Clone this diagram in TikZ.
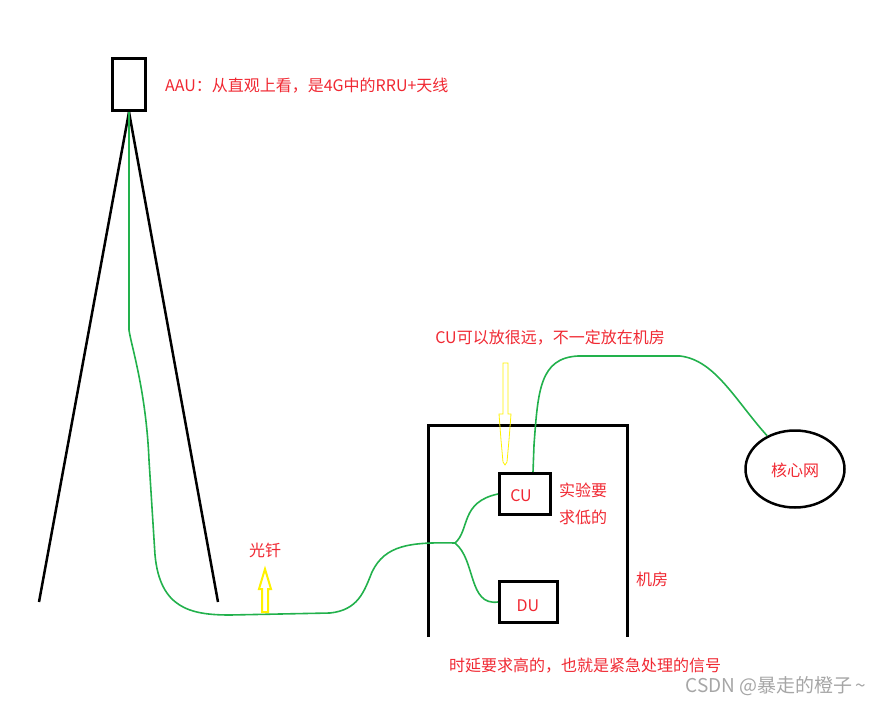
\documentclass[tikz,border=0pt]{standalone}
\usepackage{fontspec}
\setmainfont{Noto Sans CJK SC}
\usetikzlibrary{shapes.geometric}
\begin{document}
\begin{tikzpicture}[x=1pt,y=-1pt,
  blk/.style={draw=black, line width=3pt},
  yarrow/.style={draw=yellow, line join=miter}]
\useasboundingbox (0,0) rectangle (886,704);
\definecolor{rtx}{RGB}{240,40,50}
\definecolor{gfib}{RGB}{34,177,76}
\tikzset{redtxt/.style={text=rtx, font=\fontsize{16}{19}\selectfont, inner sep=0pt},
  fiber/.style={draw=gfib, line width=1.6pt}}
% AAU box and tower
\node[blk, minimum width=33pt, minimum height=52pt, inner sep=0pt] (aau) at (129,84.5) {};
\coordinate (legL) at (39,602);
\coordinate (legR) at (218,602);
\draw[black, line width=2.5pt] (aau.south) -- (legL);
\draw[black, line width=2.5pt] (aau.south) -- (legR);
\node[redtxt, anchor=west] (aautxt) at (165,86) {AAU：从直观上看，是4G中的RRU+天线};
% room
\coordinate (rbl) at (428,637);
\coordinate (rbr) at (627,637);
\draw[black, line width=3pt] (rbl) -- (428,425) -- (627,425) -- (rbr);
\node[redtxt, anchor=west] (room) at (636,579) {机房};
% CU and DU
\node[blk, minimum width=51pt, minimum height=41pt, inner sep=0pt] (cu) at (525,494) {};
\node[redtxt] (cutxt) at (521,496) {CU};
\node[blk, minimum width=58pt, minimum height=41pt, inner sep=0pt] (du) at (528.5,602) {};
\node[redtxt] (dutxt) at (528,606) {DU};
\node[redtxt, anchor=west] (lowa) at (559,490) {实验要};
\node[redtxt, anchor=west] (lowb) at (559,517) {求低的};
% core network
\node[draw=black, line width=2.5pt, ellipse, minimum width=99pt, minimum height=77pt, inner sep=0pt] (core) at (795,469) {};
\node[redtxt] (coretxt) at (795,470) {核心网};
% texts
\node[redtxt] (cutop) at (550,338) {CU可以放很远，不一定放在机房};
\node[redtxt] (fibtxt) at (265,550) {光钎};
\node[redtxt] (bottom) at (585,666) {时延要求高的，也就是紧急处理的信号};
\node[text=gray!70, font=\fontsize{19}{22}\selectfont, inner sep=0pt] (csdn) at (776,686) {CSDN @暴走的橙子\,\textasciitilde};
% fiber
\coordinate (j) at (455,543);
\draw[fiber] (aau.south) -- (129,330)
  .. controls (131,345) and (146,390) .. (149,460)
  -- (155,555) .. controls (160,608) and (190,615) .. (230,615)
  -- (330,613) .. controls (358,610) and (364,592) .. (372,572)
  .. controls (385,545) and (410,542) .. (j);
\draw[fiber] (j) .. controls (470,530) and (460,502) .. (cu.west);
\draw[fiber] (j) .. controls (476,560) and (468,606) .. (du.west);
\draw[fiber] (cu.north -| 533,0) -- (534,445)
  .. controls (538,390) and (540,358) .. (578,356)
  -- (680,356) .. controls (715,360) and (735,400) .. (core.130);
% yellow arrows
\draw[yarrow, line width=2pt] (262,612) -- (268,612) -- (268,589) -- (271,589) -- (265,569) -- (259,589) -- (262,589) -- cycle;
\draw[yarrow, line width=0.8pt] (503,363) -- (508,363) -- (508,414) -- (511,414) -- (509,440) -- (507,462) -- (505,465) -- (503,462) -- (501,440) -- (499,414) -- (503,414) -- cycle;
\end{tikzpicture}
\end{document}
